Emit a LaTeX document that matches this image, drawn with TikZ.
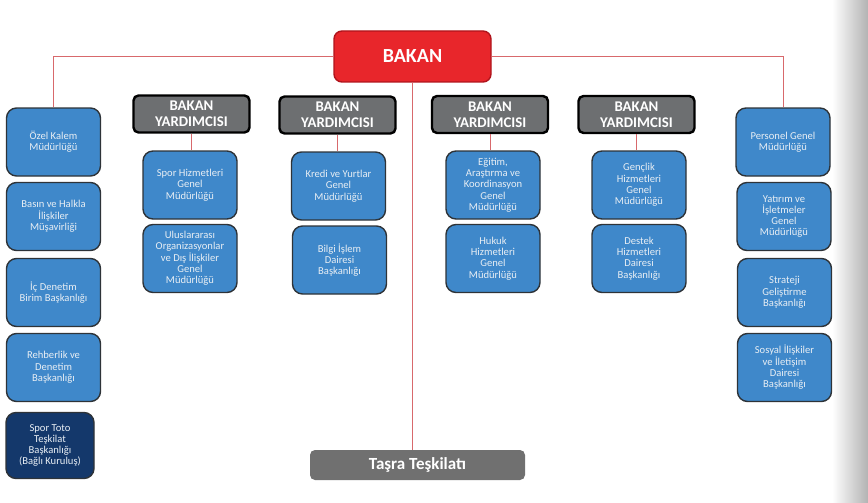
\documentclass[tikz,border=0pt]{standalone}
\usepackage{fontspec}
\setmainfont{Carlito}
\usepackage{tikz}
\usetikzlibrary{positioning}
\definecolor{bakanred}{HTML}{E8262B}
\definecolor{bakanedge}{HTML}{B0141C}
\definecolor{unitblue}{HTML}{3F88CA}
\definecolor{unitedge}{HTML}{2E3338}
\definecolor{navy}{HTML}{14386B}
\definecolor{deputygray}{HTML}{6D6F71}
\definecolor{tasragray}{HTML}{707070}
\definecolor{linkred}{HTML}{D8696C}
\definecolor{unittext}{HTML}{E8EEF4}

\begin{document}
\begin{tikzpicture}[x=1pt,y=-1pt]
  \tikzstyle{unit}=[draw=unitedge,line width=1.4pt,fill=unitblue,rounded corners=10pt,
    minimum width=94pt,minimum height=68pt,inner sep=1pt,align=center,
    text=unittext,font=\fontsize{10.6}{11.3}\selectfont]
  \tikzstyle{deputy}=[draw=black,line width=2.4pt,fill=deputygray,rounded corners=5pt,
    minimum width=116pt,minimum height=37pt,inner sep=0pt,align=center,
    text=white,font=\fontsize{14.8}{15.8}\selectfont\bfseries]
  \tikzstyle{link}=[draw=linkred,line width=0.9pt]
  \useasboundingbox (0,0) rectangle (868,503);
  \shade[left color=white,right color=black!30] (832,0) rectangle (868,503);
  % minister
  \node[draw=bakanedge,line width=1.4pt,fill=bakanred,rounded corners=8pt,
    minimum width=157pt,minimum height=51pt,text=white,
    font=\fontsize{20}{22}\selectfont\bfseries] (bakan) at (412.5,56.5) {BAKAN};
  \node[fill=tasragray,rounded corners=5pt,minimum width=215pt,minimum height=30pt,
    text=white,font=\fontsize{17}{19}\selectfont\bfseries] (tasra) at (417.5,465) {Taşra Teşkilatı};
  % deputies
  \foreach \x/\y/\name in {191.5/114/by1, 337.5/115/by2, 490/114.5/by3, 636.5/114.5/by4}
    \node[deputy] (\name) at (\x,\y) {BAKAN\\YARDIMCISI};
  % units
  \foreach \x/\y/\name/\txt in {
      53.5/142/ozel/{Özel Kalem\\Müdürlüğü},
      53.5/216.5/basin/{Basın ve Halkla\\İlişkiler\\Müşavirliği},
      53.5/292.5/icden/{İç Denetim\\Birim Başkanlığı},
      53.5/367.5/rehber/{Rehberlik ve\\Denetim\\Başkanlığı},
      190/185/spor/{Spor Hizmetleri\\Genel\\Müdürlüğü},
      190/258.5/ulus/{Uluslararası\\Organizasyonlar\\ve Dış İlişkiler\\Genel\\Müdürlüğü},
      338.5/186/kredi/{Kredi ve Yurtlar\\Genel\\Müdürlüğü},
      339.5/260/bilgi/{Bilgi İşlem\\Dairesi\\Başkanlığı},
      493/185/egitim/{Eğitim,\\Araştırma ve\\Koordinasyon\\Genel\\Müdürlüğü},
      493/258.5/hukuk/{Hukuk\\Hizmetleri\\Genel\\Müdürlüğü},
      639/185/genclik/{Gençlik\\Hizmetleri\\Genel\\Müdürlüğü},
      639/258.5/destek/{Destek\\Hizmetleri\\Dairesi\\Başkanlığı},
      783/142/personel/{Personel Genel\\Müdürlüğü},
      784/216.5/yatirim/{Yatırım ve\\İşletmeler\\Genel\\Müdürlüğü},
      784.5/292.5/strateji/{Strateji\\Geliştirme\\Başkanlığı},
      784.5/367.5/sosyal/{Sosyal İlişkiler\\ve İletişim\\Dairesi\\Başkanlığı}}
    \node[unit] (\name) at (\x,\y) {\txt};
  \node[unit,fill=navy,minimum width=88pt,minimum height=66pt] (toto) at (50,445.5)
    {Spor Toto\\Teşkilat\\Başkanlığı\\(Bağlı Kuruluş)};
  % links
  \draw[link] (bakan.west) -| (ozel.north);
  \draw[link] (bakan.east) -| (personel.north);
  \draw[link] (bakan.south) -- (bakan.south |- tasra.north);
  \foreach \a/\b in {by1/spor, by2/kredi, by3/egitim, by4/genclik}
    \draw[link] (\a.south) -- (\a.south |- \b.north);
\end{tikzpicture}
\end{document}
